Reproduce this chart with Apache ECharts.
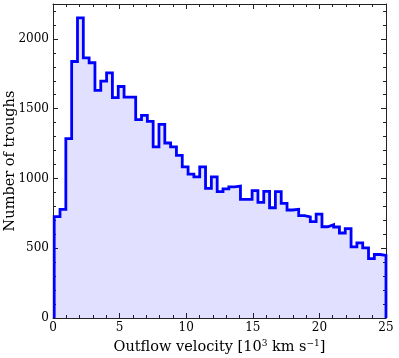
<!DOCTYPE html>
<html>
<head>
<meta charset="utf-8">
<script src="https://cdn.jsdelivr.net/npm/echarts@6/dist/echarts.min.js"></script>
<style>
    html, body { margin: 0; padding: 0; background: #fff; }
    #chart { width: 399px; height: 358px; }
</style>
</head>
<body>
<div id="chart"></div>
<script>
// histogram bins (10^3 km/s)
var binStart = 0.09;
var binWidth = 0.437;
// number of troughs in each bin
var counts = [726, 779, 1286, 1838, 2150, 1864, 1829, 1631, 1697, 1757,
    1579, 1659, 1583, 1583, 1421, 1452, 1409, 1226, 1388, 1254,
    1226, 1166, 1083, 1031, 1011, 1083, 929, 1011, 905, 925,
    940, 945, 850, 850, 913, 828, 908, 790, 905, 821,
    774, 779, 733, 724, 690, 745, 654, 668, 652, 609,
    640, 510, 538, 503, 425, 455, 448];
// axis ranges
var xRange = [0, 25], xStep = 5;
var yRange = [0, 2250], yStep = 500;

var serif = 'DejaVu Serif';
var frame = '#222';

// step outline: start and end on zero
var pts = [[binStart, 0]];
for (var i = 0; i < counts.length; i++) {
    pts.push([binStart + i * binWidth, counts[i]]);
}
var binEnd = binStart + counts.length * binWidth;
pts.push([binEnd, counts[counts.length - 1]]);
pts.push([binEnd, 0]);

function axisBase(pos, showLabel) {
    return {
        position: pos,
        axisLine: { show: true, onZero: false, lineStyle: { color: frame, width: 1 } },
        axisTick: { show: true, inside: true, length: 5, lineStyle: { color: frame } },
        minorTick: { show: true, splitNumber: 5, length: 3, lineStyle: { color: frame } },
        splitLine: { show: false },
        axisLabel: {
            show: showLabel, color: '#000', fontFamily: serif, fontSize: 12, margin: 4,
            showMaxLabel: pos === 'left' ? false : null,
            formatter: function (v) { return String(v); }
        }
    };
}

var myChart = echarts.init(document.getElementById('chart'));
var xMain = axisBase('bottom', true);
xMain.type = 'value';
xMain.min = xRange[0]; xMain.max = xRange[1]; xMain.interval = xStep;
xMain.name = '{a|Outflow velocity [10}{s|3}{a| km s}{s|\u22121}{a|]}';
xMain.nameLocation = 'middle';
xMain.nameGap = 21;
xMain.nameTextStyle = {
    rich: {
        a: { fontFamily: serif, fontSize: 14.5, color: '#000', lineHeight: 17 },
        s: { fontFamily: serif, fontSize: 9, color: '#000', verticalAlign: 'top', lineHeight: 11 }
    }
};
var xTop = axisBase('top', false);
xTop.type = 'value';
xTop.min = xRange[0]; xTop.max = xRange[1]; xTop.interval = xStep;

var yMain = axisBase('left', true);
yMain.type = 'value';
yMain.min = yRange[0]; yMain.max = yRange[1]; yMain.interval = yStep;
yMain.name = 'Number of troughs';
yMain.nameLocation = 'middle';
yMain.nameGap = 35;
yMain.nameMoveOverlap = false;
yMain.nameTextStyle = { fontFamily: serif, fontSize: 14.5, color: '#000' };
var yRight = axisBase('right', false);
yRight.type = 'value';
yRight.min = yRange[0]; yRight.max = yRange[1]; yRight.interval = yStep;

var option = {
    animation: false,
    grid: { left: 53, right: 13, top: 4, bottom: 40, containLabel: false, outerBoundsMode: 'none' },
    xAxis: [xMain, xTop],
    yAxis: [yMain, yRight],
    series: [{
        type: 'line',
        step: 'end',
        data: pts,
        symbol: 'none',
        clip: true,
        lineStyle: { color: '#0000ff', width: 2.8, join: 'miter' },
        areaStyle: { color: 'rgba(0,0,255,0.17)', origin: 0 }
    }]
};
myChart.setOption(option);
</script>
</body>
</html>
